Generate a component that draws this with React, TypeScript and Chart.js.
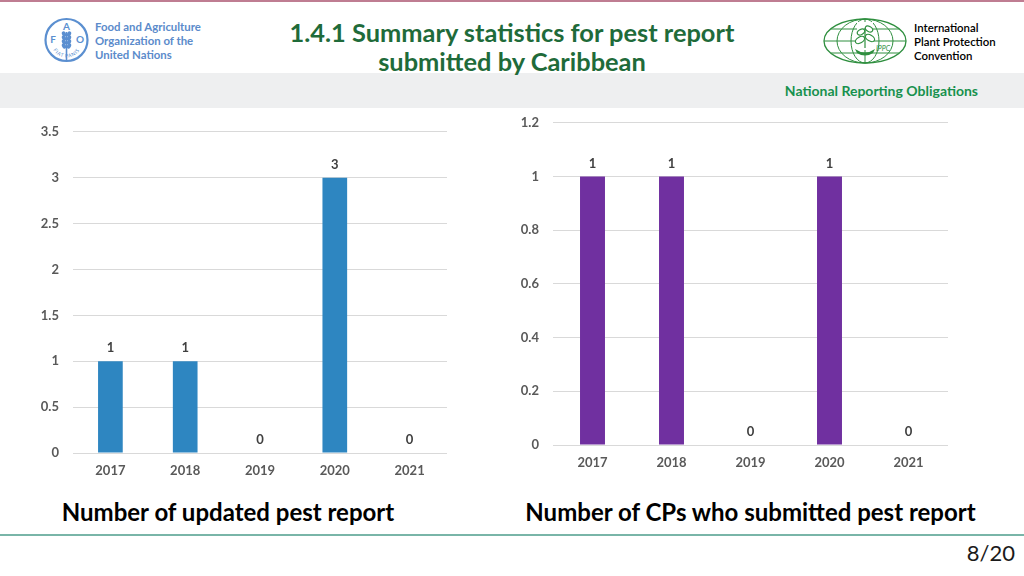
import React, { useEffect, useRef } from "react";
import { Chart, registerables } from "chart.js";

Chart.register(...registerables);

const years = ["2017", "2018", "2019", "2020", "2021"];
const updatedReports = [1, 1, 0, 3, 0];
const cpsSubmitted = [1, 1, 0, 1, 0];
const leftTickValues = [0, 0.5, 1, 1.5, 2, 2.5, 3, 3.5];
const rightTickValues = [0, 0.2, 0.4, 0.6, 0.8, 1, 1.2];

const FONT = "Lato, 'Open Sans', sans-serif";
const TICK_COLOR = "#595959";

const valueLabelPlugin = {
  id: "valueLabels",
  afterDatasetsDraw(chart: any) {
    const ctx = chart.ctx;
    const meta = chart.getDatasetMeta(0);
    const data = chart.data.datasets[0].data;
    ctx.save();
    ctx.font = `bold 13px ${FONT}`;
    ctx.fillStyle = "#404040";
    ctx.textAlign = "center";
    ctx.textBaseline = "middle";
    meta.data.forEach((bar: any, i: number) => {
      ctx.fillText(String(data[i]), bar.x, bar.y - 13);
    });
    ctx.restore();
  },
};

type BarProps = {
  labels: string[];
  values: number[];
  color: string;
  tickValues: number[];
  max: number;
  barFrac: number;
  left: number;
  top: number;
  width: number;
  height: number;
};

function BarChart(p: BarProps) {
  const ref = useRef<HTMLCanvasElement | null>(null);
  useEffect(() => {
    if (!ref.current) return;
    const tickFont = { family: FONT, size: 13, weight: "bold" as const };
    const chart = new Chart(ref.current, {
      type: "bar",
      data: {
        labels: p.labels,
        datasets: [
          {
            data: p.values,
            backgroundColor: p.color,
            categoryPercentage: 1,
            barPercentage: p.barFrac,
          },
        ],
      },
      options: {
        animation: false,
        responsive: false,
        maintainAspectRatio: false,
        layout: { padding: { top: 0, right: 1, left: 0, bottom: 0 } },
        plugins: { legend: { display: false }, tooltip: { enabled: false } },
        scales: {
          x: {
            grid: { display: false, drawTicks: false },
            border: { display: false },
            ticks: { padding: 10, color: TICK_COLOR, font: tickFont },
            afterFit: (s: any) => {
              s.height = 30;
            },
          },
          y: {
            min: 0,
            max: p.max,
            grid: { color: "#d9d9d9", drawTicks: false, lineWidth: 1 },
            border: { display: false },
            ticks: {
              padding: 14,
              color: TICK_COLOR,
              font: tickFont,
              callback: (v: any) => String(v),
            },
            afterBuildTicks: (s: any) => {
              s.ticks = p.tickValues.map((v) => ({ value: v }));
            },
            afterFit: (s: any) => {
              s.width = 43;
            },
          },
        },
      },
      plugins: [valueLabelPlugin],
    });
    return () => chart.destroy();
  }, []);
  return (
    <canvas
      ref={ref}
      width={p.width}
      height={p.height}
      style={{ position: "absolute", left: p.left, top: p.top, width: p.width, height: p.height }}
    />
  );
}

function FaoLogo() {
  const c = "#5b8fd0";
  return (
    <svg width={50} height={50} style={{ position: "absolute", left: 42, top: 15 }} viewBox="0 0 50 50">
      <circle cx={24.5} cy={25} r={21} fill="none" stroke={c} strokeWidth={2.2} />
      <defs>
        <path id="faoArc" d="M 9 27 A 15.5 15.5 0 0 0 40 27" />
      </defs>
      <text fontFamily={FONT} fontSize={5} fill={c} letterSpacing={0.6}>
        <textPath href="#faoArc" startOffset="50%" textAnchor="middle">FIAT PANIS</textPath>
      </text>
      <text x={11} y={28} fontFamily={FONT} fontWeight="bold" fontSize={10} fill={c} textAnchor="middle">F</text>
      <text x={24.5} y={15} fontFamily={FONT} fontWeight="bold" fontSize={10} fill={c} textAnchor="middle">A</text>
      <text x={38} y={28} fontFamily={FONT} fontWeight="bold" fontSize={10} fill={c} textAnchor="middle">O</text>
      <line x1={24.5} y1={17} x2={24.5} y2={46} stroke={c} strokeWidth={1.6} />
      {[19, 23, 27, 31].map((y) => (
        <g key={y}>
          <ellipse cx={22} cy={y} rx={2} ry={2.8} fill={c} transform={`rotate(-25 22 ${y})`} />
          <ellipse cx={27} cy={y} rx={2} ry={2.8} fill={c} transform={`rotate(25 27 ${y})`} />
        </g>
      ))}
    </svg>
  );
}

function IppcLogo() {
  const g = "#2f8f3f";
  return (
    <svg width={90} height={50} style={{ position: "absolute", left: 821, top: 16 }} viewBox="0 0 90 50">
      <g fill="none" stroke={g} strokeWidth={1}>
        <ellipse cx={44} cy={25} rx={41} ry={22} strokeWidth={1.3} />
        <ellipse cx={44} cy={25} rx={28} ry={22} />
        <ellipse cx={44} cy={25} rx={14} ry={22} />
        <line x1={44} y1={3} x2={44} y2={47} />
        <line x1={3} y1={25} x2={85} y2={25} />
        <line x1={10} y1={13} x2={78} y2={13} />
        <line x1={10} y1={37} x2={78} y2={37} />
      </g>
      <rect x={36} y={6} width={16} height={28} fill="#ffffff" />
      <g fill="#ffffff" stroke={g} strokeWidth={1.2}>
        <path d="M44 32 L44 12" />
        <ellipse cx={39} cy={24} rx={5} ry={3} transform="rotate(-30 39 24)" />
        <ellipse cx={49} cy={22} rx={5} ry={3} transform="rotate(30 49 22)" />
        <ellipse cx={40} cy={16} rx={4} ry={2.5} transform="rotate(-30 40 16)" />
        <ellipse cx={48} cy={13} rx={4} ry={2.5} transform="rotate(30 48 13)" />
      </g>
      <path d="M34 33 Q44 40 54 33 L52 37 Q44 42 36 37 Z" fill={g} />
      <text x={62} y={35} fontFamily={FONT} fontStyle="italic" fontSize={7} fill={g} textAnchor="middle">IPPC</text>
    </svg>
  );
}

export default function App() {
  const abs: React.CSSProperties = { position: "absolute", whiteSpace: "nowrap" };
  return (
    <div
      style={{
        position: "fixed",
        left: 0,
        top: 0,
        width: 1024,
        height: 576,
        background: "#ffffff",
        overflow: "hidden",
        fontFamily: FONT,
      }}
    >
      <div style={{ ...abs, left: 0, top: 0, width: 1024, height: 2, background: "#bf7d92" }} />
      <div style={{ ...abs, left: 0, top: 73, width: 1024, height: 35, background: "#eeeff0" }} />
      <FaoLogo />
      <div style={{ ...abs, left: 95, top: 20, fontSize: 11.4, lineHeight: "14px", fontWeight: "bold", color: "#5b8bcb" }}>
        Food and Agriculture
        <br />
        Organization of the
        <br />
        United Nations
      </div>
      <IppcLogo />
      <div style={{ ...abs, left: 914, top: 21, fontSize: 11.4, lineHeight: "14px", color: "#000000", fontWeight: 600 }}>
        International
        <br />
        Plant Protection
        <br />
        Convention
      </div>
      <div
        style={{
          ...abs,
          left: 0,
          top: 18,
          width: 1024,
          textAlign: "center",
          fontSize: 25.4,
          lineHeight: "29px",
          fontWeight: "bold",
          color: "#1f6b3a",
        }}
      >
        1.4.1 Summary statistics for pest report
        <br />
        submitted by Caribbean
      </div>
      <div style={{ ...abs, right: 46, top: 81, fontSize: 14, lineHeight: "19px", fontWeight: "bold", color: "#17914d" }}>
        National Reporting Obligations
      </div>

      <BarChart
        labels={years}
        values={updatedReports}
        color="#2e86c1"
        tickValues={leftTickValues}
        max={3.5}
        barFrac={0.33}
        left={30}
        top={110}
        width={418}
        height={373}
      />
      <BarChart
        labels={years}
        values={cpsSubmitted}
        color="#7030a0"
        tickValues={rightTickValues}
        max={1.2}
        barFrac={0.316}
        left={510}
        top={101}
        width={439}
        height={374}
      />

      <div style={{ ...abs, left: 0, width: 456, top: 498, textAlign: "center", fontSize: 24, lineHeight: "28px", fontWeight: "bold", color: "#000" }}>
        Number of updated pest report
      </div>
      <div style={{ ...abs, left: 450, width: 601, top: 498, textAlign: "center", fontSize: 24, lineHeight: "28px", fontWeight: "bold", color: "#000" }}>
        Number of CPs who submitted pest report
      </div>
      <div style={{ ...abs, left: 0, top: 534, width: 1024, height: 2, background: "#79b5a8" }} />
      <div style={{ ...abs, right: 9, top: 539, fontSize: 22, lineHeight: "28px", color: "#1a1a1a" }}>8/20</div>
    </div>
  );
}
